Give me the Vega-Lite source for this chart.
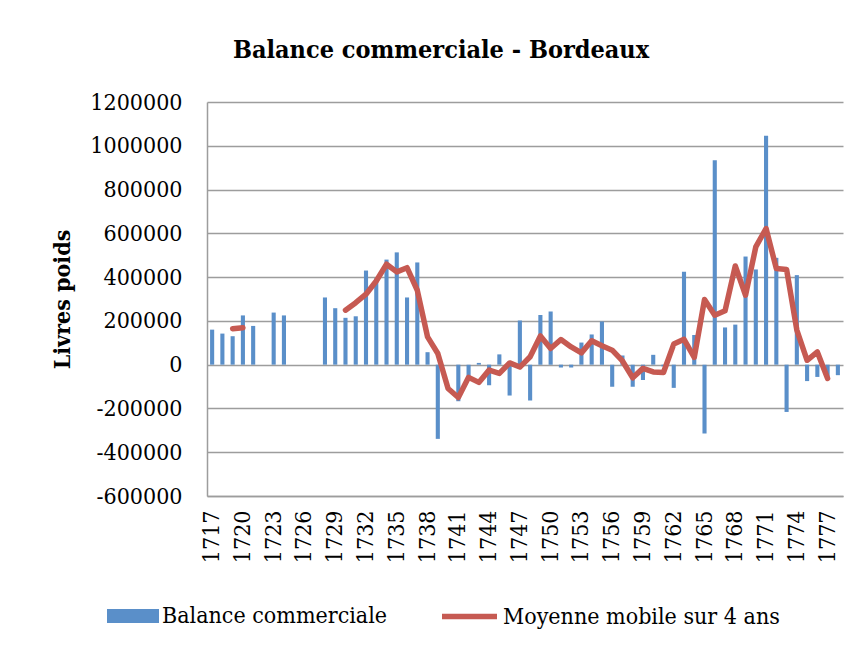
{
  "$schema": "https://vega.github.io/schema/vega-lite/v6.json",
  "width": 636,
  "height": 394,
  "autosize": {"type": "none"},
  "padding": {"left": 207, "top": 102, "right": 23, "bottom": 159},
  "background": "white",
  "config": {"view": {"stroke": null}},
  "title": {"text": "Balance commerciale - Bordeaux", "font": "DejaVu Serif Condensed, Liberation Serif, serif", "fontSize": 25, "fontWeight": "bold", "color": "black", "anchor": "middle", "frame": "group", "dx": -84, "offset": 8, "baseline": "alphabetic"},
  "data": {"values": [
    {"annee": 1717, "balance": 160000, "moyenne": null},
    {"annee": 1718, "balance": 142000, "moyenne": null},
    {"annee": 1719, "balance": 130000, "moyenne": 164000},
    {"annee": 1720, "balance": 225000, "moyenne": 169000},
    {"annee": 1721, "balance": 177000, "moyenne": null},
    {"annee": 1722, "balance": null, "moyenne": null},
    {"annee": 1723, "balance": 238000, "moyenne": null},
    {"annee": 1724, "balance": 225000, "moyenne": null},
    {"annee": 1725, "balance": null, "moyenne": null},
    {"annee": 1726, "balance": null, "moyenne": null},
    {"annee": 1727, "balance": null, "moyenne": null},
    {"annee": 1728, "balance": 307000, "moyenne": null},
    {"annee": 1729, "balance": 258000, "moyenne": null},
    {"annee": 1730, "balance": 214000, "moyenne": 249000},
    {"annee": 1731, "balance": 221000, "moyenne": 283000},
    {"annee": 1732, "balance": 430000, "moyenne": 322000},
    {"annee": 1733, "balance": 395000, "moyenne": 382000},
    {"annee": 1734, "balance": 480000, "moyenne": 459000},
    {"annee": 1735, "balance": 513000, "moyenne": 424000},
    {"annee": 1736, "balance": 307000, "moyenne": 443000},
    {"annee": 1737, "balance": 467000, "moyenne": 340000},
    {"annee": 1738, "balance": 57000, "moyenne": 127000},
    {"annee": 1739, "balance": -339000, "moyenne": 51000},
    {"annee": 1740, "balance": null, "moyenne": -109000},
    {"annee": 1741, "balance": -167000, "moyenne": -150000},
    {"annee": 1742, "balance": -65000, "moyenne": -58000},
    {"annee": 1743, "balance": 8000, "moyenne": -81000},
    {"annee": 1744, "balance": -94000, "moyenne": -25000},
    {"annee": 1745, "balance": 47000, "moyenne": -40000},
    {"annee": 1746, "balance": -141000, "moyenne": 8000},
    {"annee": 1747, "balance": 202000, "moyenne": -11000},
    {"annee": 1748, "balance": -164000, "moyenne": 36000},
    {"annee": 1749, "balance": 227000, "moyenne": 131000},
    {"annee": 1750, "balance": 243000, "moyenne": 74000},
    {"annee": 1751, "balance": -13000, "moyenne": 115000},
    {"annee": 1752, "balance": -13000, "moyenne": 81000},
    {"annee": 1753, "balance": 101000, "moyenne": 54000},
    {"annee": 1754, "balance": 138000, "moyenne": 109000},
    {"annee": 1755, "balance": 197000, "moyenne": 86000},
    {"annee": 1756, "balance": -101000, "moyenne": 66000},
    {"annee": 1757, "balance": 42000, "moyenne": 17000},
    {"annee": 1758, "balance": -101000, "moyenne": -60000},
    {"annee": 1759, "balance": -70000, "moyenne": -17000},
    {"annee": 1760, "balance": 45000, "moyenne": -33000},
    {"annee": 1761, "balance": -8000, "moyenne": -36000},
    {"annee": 1762, "balance": -106000, "moyenne": 94000},
    {"annee": 1763, "balance": 425000, "moyenne": 116000},
    {"annee": 1764, "balance": 135000, "moyenne": 33000},
    {"annee": 1765, "balance": -314000, "moyenne": 298000},
    {"annee": 1766, "balance": 934000, "moyenne": 226000},
    {"annee": 1767, "balance": 170000, "moyenne": 246000},
    {"annee": 1768, "balance": 183000, "moyenne": 451000},
    {"annee": 1769, "balance": 494000, "moyenne": 317000},
    {"annee": 1770, "balance": 435000, "moyenne": 538000},
    {"annee": 1771, "balance": 1046000, "moyenne": 622000},
    {"annee": 1772, "balance": 488000, "moyenne": 439000},
    {"annee": 1773, "balance": -216000, "moyenne": 435000},
    {"annee": 1774, "balance": 409000, "moyenne": 158000},
    {"annee": 1775, "balance": -75000, "moyenne": 20000},
    {"annee": 1776, "balance": -56000, "moyenne": 58000},
    {"annee": 1777, "balance": -65000, "moyenne": -63000},
    {"annee": 1778, "balance": -48000, "moyenne": null}
  ]},
  "encoding": {
    "x": {
      "field": "annee",
      "type": "ordinal",
      "scale": {"paddingInner": 0.6, "paddingOuter": 0.3},
      "axis": {
        "title": null,
        "values": [1717, 1720, 1723, 1726, 1729, 1732, 1735, 1738, 1741, 1744, 1747, 1750, 1753, 1756, 1759, 1762, 1765, 1768, 1771, 1774, 1777],
        "labelAngle": 270,
        "labelAlign": "right",
        "labelBaseline": "middle",
        "labelPadding": 14,
        "labelFont": "DejaVu Serif Condensed, Liberation Serif, serif",
        "labelFontSize": 23,
        "labelColor": "black",
        "ticks": false,
        "grid": false,
        "domainColor": "#9d9d9d",
        "domainWidth": 1.5
      }
    }
  },
  "layer": [
    {
      "mark": {"type": "bar"},
      "encoding": {
        "y": {
          "field": "balance",
          "type": "quantitative",
          "scale": {"domain": [-600000, 1200000], "nice": false, "zero": true},
          "axis": {
            "title": "Livres poids",
            "titleFont": "DejaVu Serif Condensed, Liberation Serif, serif",
            "titleFontSize": 23,
            "titleFontWeight": "bold",
            "titleColor": "black",
            "titleAngle": 270,
            "titleAlign": "center",
            "titleBaseline": "middle",
            "titleX": -145,
            "titleY": 197,
            "values": [-600000, -400000, -200000, 0, 200000, 400000, 600000, 800000, 1000000, 1200000],
            "labelExpr": "'' + datum.value",
            "labelFont": "DejaVu Serif Condensed, Liberation Serif, serif",
            "labelFontSize": 23,
            "labelColor": "black",
            "labelPadding": 25,
            "ticks": false,
            "grid": true,
            "gridColor": "#9d9d9d",
            "gridWidth": 1.5,
            "domainColor": "#9d9d9d",
            "domainWidth": 1.5
          }
        },
        "fill": {
          "datum": "Balance commerciale",
          "type": "nominal",
          "scale": {"domain": ["Balance commerciale"], "range": ["#5a8fc9"]},
          "legend": {
            "orient": "none",
            "legendX": -100,
            "legendY": 488,
            "title": null,
            "symbolType": "M-1,-0.27H1V0.27H-1Z",
            "symbolSize": 2704,
            "symbolStrokeWidth": 0,
            "symbolOpacity": 1,
            "labelFont": "DejaVu Serif Condensed, Liberation Serif, serif",
            "labelFontSize": 23,
            "labelColor": "black",
            "labelOffset": 3,
            "labelLimit": 400
          }
        }
      }
    },
    {
      "mark": {"type": "line", "strokeWidth": 5.5, "strokeCap": "round", "strokeJoin": "round", "invalid": "break-paths-filter-domains"},
      "encoding": {
        "y": {"field": "moyenne", "type": "quantitative", "axis": {"title": "Livres poids"}},
        "stroke": {
          "datum": "Moyenne mobile sur 4 ans",
          "type": "nominal",
          "scale": {"domain": ["Moyenne mobile sur 4 ans"], "range": ["#c65a52"]},
          "legend": {
            "orient": "none",
            "legendX": 232,
            "legendY": 484,
            "title": null,
            "symbolType": "stroke",
            "symbolSize": 3025,
            "symbolStrokeWidth": 5.5,
            "labelFont": "DejaVu Serif Condensed, Liberation Serif, serif",
            "labelFontSize": 23,
            "labelColor": "black",
            "labelOffset": 3,
            "labelLimit": 400
          }
        }
      }
    }
  ]
}
